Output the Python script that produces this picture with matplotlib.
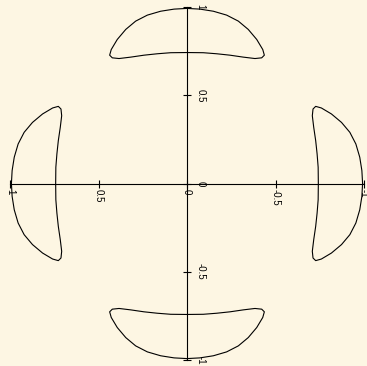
import numpy as np
import matplotlib
matplotlib.use("Agg")
import matplotlib.pyplot as plt

# Left half of the upper crescent: outer rim from the top, then the inner rim back
half_x = [0.0, -0.073, -0.149, -0.224, -0.290, -0.346, -0.394, -0.428, -0.437,
          -0.422, -0.384, -0.318, -0.243, -0.168, -0.092, 0.0]
half_y = [0.992, 0.988, 0.976, 0.954, 0.920, 0.873, 0.816, 0.759, 0.727,
          0.712, 0.708, 0.716, 0.727, 0.735, 0.741, 0.742]

tick_values = [-1, -0.5, 0, 0.5, 1]
tick_labels = ["-1", "-0.5", "0", "0.5", "1"]

bg = "#fdf6e3"

# Full upper crescent: mirror the half across the vertical axis
hx = np.array(half_x)
hy = np.array(half_y)
top_x = np.concatenate([hx, -hx[::-1]])
top_y = np.concatenate([hy, hy[::-1]])

fig = plt.figure(figsize=(3.67, 3.66), dpi=100, facecolor=bg)
ax = fig.add_axes([10 / 367, 1 - 360 / 366, 354 / 367, 353 / 366])
ax.set_facecolor(bg)

# the four crescents are quarter-turn copies of the upper one
for cx, cy in [(top_x, top_y), (top_x, -top_y), (top_y, top_x), (-top_y, top_x)]:
    ax.plot(cx, cy, color="black", lw=0.8)

ax.set_xlim(1, -1)
ax.set_ylim(-1, 1)

ax.spines["top"].set_visible(False)
ax.spines["left"].set_visible(False)
ax.spines["bottom"].set_position(("data", 0))
ax.spines["right"].set_position(("data", 0))
for s in ("bottom", "right"):
    ax.spines[s].set_linewidth(0.8)

ax.xaxis.set_ticks_position("bottom")
ax.yaxis.set_ticks_position("right")
ax.set_xticks(tick_values)
ax.set_xticklabels(tick_labels)
ax.set_yticks(tick_values)
ax.set_yticklabels(tick_labels)
ax.tick_params(direction="inout", length=6, width=0.8, labelsize=7)
ax.tick_params(axis="x", pad=1)
ax.tick_params(axis="y", pad=3)
for lab in ax.get_xticklabels() + ax.get_yticklabels():
    lab.set_rotation(-90)
    lab.set_fontfamily("Liberation Sans")
for lab in ax.get_yticklabels():
    lab.set_verticalalignment("center")

fig.savefig("out.png", dpi=100, facecolor=bg)
